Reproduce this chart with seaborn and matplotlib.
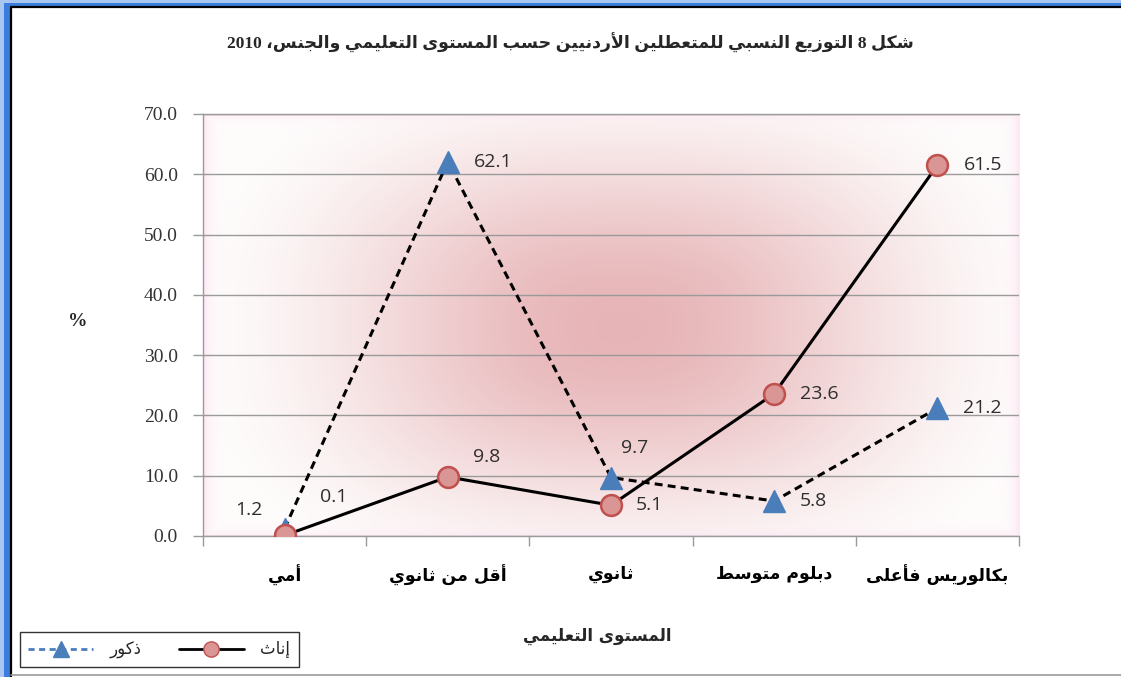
import re
import numpy as np
import pandas as pd
import seaborn as sns
import matplotlib.pyplot as plt
from matplotlib.lines import Line2D
from matplotlib.patches import Rectangle
from matplotlib.ticker import FixedLocator

# ---- data ----
levels = ['أمي', 'أقل من ثانوي', 'ثانوي', 'دبلوم متوسط', 'بكالوريس فأعلى']
males = [1.2, 62.1, 9.7, 5.8, 21.2]
females = [0.1, 9.8, 5.1, 23.6, 61.5]
yticks = [0, 10, 20, 30, 40, 50, 60, 70]
title = 'شكل 8 التوزيع النسبي للمتعطلين الأردنيين حسب المستوى التعليمي والجنس، 2010'
xtitle = 'المستوى التعليمي'
male_name = 'ذكور'
female_name = 'إناث'

# label offsets in pixels (dx, dy), text left-aligned
male_off = [(-49, 19), (26, 0), (10, 30), (26, 0), (26, 0)]
female_off = [(35, 38), (25, 20), (25, 0), (26, 0), (26, 0)]

# ---- small arabic shaper: presentation forms + right-to-left visual order ----
R_JOIN = {'ا': 0xFE8D, 'أ': 0xFE83, 'إ': 0xFE87, 'آ': 0xFE81, 'د': 0xFEA9, 'ذ': 0xFEAB,
          'ر': 0xFEAD, 'ز': 0xFEAF, 'و': 0xFEED, 'ى': 0xFEEF, 'ة': 0xFE93}
D_JOIN = {'ب': 0xFE8F, 'ت': 0xFE95, 'ث': 0xFE99, 'ج': 0xFE9D, 'ح': 0xFEA1, 'خ': 0xFEA5,
          'س': 0xFEB1, 'ش': 0xFEB5, 'ص': 0xFEB9, 'ض': 0xFEBD, 'ط': 0xFEC1, 'ظ': 0xFEC5,
          'ع': 0xFEC9, 'غ': 0xFECD, 'ف': 0xFED1, 'ق': 0xFED5, 'ك': 0xFED9, 'ل': 0xFEDD,
          'م': 0xFEE1, 'ن': 0xFEE5, 'ه': 0xFEE9, 'ي': 0xFEF1}
LAM_ALEF = {'ا': 0xFEFB, 'أ': 0xFEF7, 'إ': 0xFEF9, 'آ': 0xFEF5}
AR_RUN = r'[\u0621-\u064A]+'


def shape_run(run):
    units = []
    i = 0
    while i < len(run):
        c = run[i]
        if c == 'ل' and i + 1 < len(run) and run[i + 1] in LAM_ALEF:
            units.append(('LA', LAM_ALEF[run[i + 1]]))
            i += 2
        else:
            units.append((c, None))
            i += 1
    out = []
    for k, (c, lig) in enumerate(units):
        prev = units[k - 1][0] if k > 0 else None
        jp = prev in D_JOIN
        if c == 'LA':
            out.append(chr(lig + (1 if jp else 0)))
        elif c in R_JOIN:
            out.append(chr(R_JOIN[c] + (1 if jp else 0)))
        elif c in D_JOIN:
            jn = k + 1 < len(units)
            base = D_JOIN[c]
            if jp and jn:
                out.append(chr(base + 3))
            elif jn:
                out.append(chr(base + 2))
            elif jp:
                out.append(chr(base + 1))
            else:
                out.append(chr(base))
        else:
            out.append(c)
    return ''.join(reversed(out))


def ar(text):
    tokens = re.findall(AR_RUN + r'|[0-9.]+|\s+|.', text)
    out = [shape_run(tk) if re.match(AR_RUN, tk) else tk for tk in tokens]
    return ''.join(reversed(out))


sns.set_theme(style='white')
plt.rcParams['font.family'] = ['DejaVu Sans']
SERIF = ['Liberation Serif', 'DejaVu Sans']

W, H = 1121, 677
fig = plt.figure(figsize=(W / 100, H / 100), dpi=100)
fig.patch.set_facecolor('white')

ax_l, ax_r, ax_t, ax_b = 203, 1019, 114, 536
ax = fig.add_axes([ax_l / W, (H - ax_b) / H, (ax_r - ax_l) / W, (ax_b - ax_t) / H])

# ---- pink centre-glow background ----
pw, ph = ax_r - ax_l, ax_b - ax_t
gx, gy = np.meshgrid(np.linspace(0, pw, 408), np.linspace(0, ph, 211))
cx, cy, rx, ry, p = 418, 213, 440, 280, 2.6
d = ((np.abs(gx - cx) / rx) ** p + (np.abs(gy - cy) / ry) ** p) ** (1 / p)
t = np.clip(d, 0, 1)
t = t * t * (3 - 2 * t)
pink = np.array([0.905, 0.705, 0.715])
white = np.array([0.997, 0.988, 0.988])
img = pink + (white - pink) * t[..., None]
edge = np.array([0.99, 0.91, 0.955])
ew = np.maximum(np.exp(-np.minimum(gx, pw - gx) / 6.0), 0.6 * np.exp(-np.minimum(gy, ph - gy) / 5.0))
img = img + (edge - img) * ew[..., None]
ax.imshow(img, extent=(-0.5, 4.5, 0, 70), aspect='auto', zorder=0, interpolation='bilinear')

# ---- series ----
lv = [ar(s) for s in levels]
df_m = pd.DataFrame({'level': lv, 'value': males})
df_f = pd.DataFrame({'level': lv, 'value': females})
sns.lineplot(data=df_m, x='level', y='value', ax=ax, sort=False, color='black', lw=2.2,
             linestyle=(0, (2.6, 1.7)), marker='^', markersize=16,
             markerfacecolor='#4A7EBB', markeredgecolor='#4A7EBB', markeredgewidth=1, zorder=3)
sns.lineplot(data=df_f, x='level', y='value', ax=ax, sort=False, color='black', lw=2.2,
             marker='o', markersize=15, markerfacecolor='#D99694', markeredgecolor='#C0504D',
             markeredgewidth=1.8, zorder=4)

for vals, offs in ((males, male_off), (females, female_off)):
    for i, (v, (dx, dy)) in enumerate(zip(vals, offs)):
        ax.annotate(f'{v:.1f}', (i, v), xytext=(dx * 0.72, dy * 0.72), textcoords='offset points',
                    ha='left', va='center', fontsize=14, color='#2e2e2e', family='Open Sans',
                    zorder=5)

ax.set_xlim(-0.5, 4.5)
ax.set_ylim(0, 70)
ax.set_xlabel('')
ax.set_ylabel('')

ax.set_yticks(yticks)
ax.set_yticklabels([f'{v:.1f}' for v in yticks], family=SERIF, fontsize=14, color='#333333')
ax.yaxis.grid(True, color='#9a9a9a', lw=1)
ax.xaxis.grid(False)
ax.tick_params(axis='y', length=7, width=1, color='#9a9a9a', pad=11, direction='out', left=True)
ax.set_xticks(range(len(lv)))
ax.set_xticklabels(lv, fontsize=12.5, fontweight='bold', color='black')
ax.tick_params(axis='x', which='major', length=0, pad=21)
ax.xaxis.set_minor_locator(FixedLocator(np.arange(-0.5, 5, 1)))
ax.tick_params(axis='x', which='minor', length=7, width=1, color='#9a9a9a', bottom=True)

for s in ('left', 'bottom', 'top'):
    ax.spines[s].set_color('#9a9a9a')
    ax.spines[s].set_linewidth(1)
ax.spines['right'].set_visible(False)

# ---- texts ----
fig.text(570 / W, 1 - 43 / H, ar(title), ha='center', va='center', fontsize=12.5,
         fontweight='bold', family=SERIF)
fig.text(78 / W, 1 - 322 / H, '%', ha='center', va='center', fontsize=14,
         fontweight='bold', family=SERIF)
fig.text(597 / W, 1 - 636 / H, ar(xtitle), ha='center', va='center', fontsize=12,
         fontweight='bold')

# ---- legend ----
h_m = Line2D([], [], color='#4A7EBB', lw=2, linestyle=(0, (2.2, 1.6)), marker='^',
             markersize=11, markerfacecolor='#4A7EBB', markeredgecolor='#4A7EBB')
h_f = Line2D([], [], color='black', lw=2, marker='o', markersize=11,
             markerfacecolor='#D99694', markeredgecolor='#C0504D')
leg = fig.legend([h_m, h_f], [ar(male_name), ar(female_name)], ncol=2, loc='lower left',
                 bbox_to_anchor=(20 / W, 10 / H), frameon=True, fancybox=False, fontsize=12,
                 handlelength=3.9, handletextpad=1.0, columnspacing=2.2, borderpad=0.5,
                 borderaxespad=0)
leg.get_frame().set_edgecolor('black')
leg.get_frame().set_linewidth(1)

# ---- frame around the picture ----
fig.add_artist(Rectangle((0, 0), 4 / W, 1, transform=fig.transFigure, color='#a8c6f0', lw=0))
fig.add_artist(Rectangle((4 / W, 0), 6 / W, 1, transform=fig.transFigure, color='#3b7ddd', lw=0))
fig.add_artist(Rectangle((0, 1 - 3 / H), 1, 3 / H, transform=fig.transFigure, color='#a8c6f0', lw=0))
fig.add_artist(Rectangle((4 / W, 1 - 6 / H), 1, 3 / H, transform=fig.transFigure, color='#3b7ddd', lw=0))
fig.add_artist(Line2D([11 / W, 11 / W], [0, 1 - 7 / H], transform=fig.transFigure, color='black', lw=1.6))
fig.add_artist(Line2D([11 / W, 1], [1 - 7 / H, 1 - 7 / H], transform=fig.transFigure, color='black', lw=1.6))
fig.add_artist(Line2D([11 / W, 1], [2 / H, 2 / H], transform=fig.transFigure, color='#9a9a9a', lw=1.2))

fig.savefig('out.png', dpi=100)
